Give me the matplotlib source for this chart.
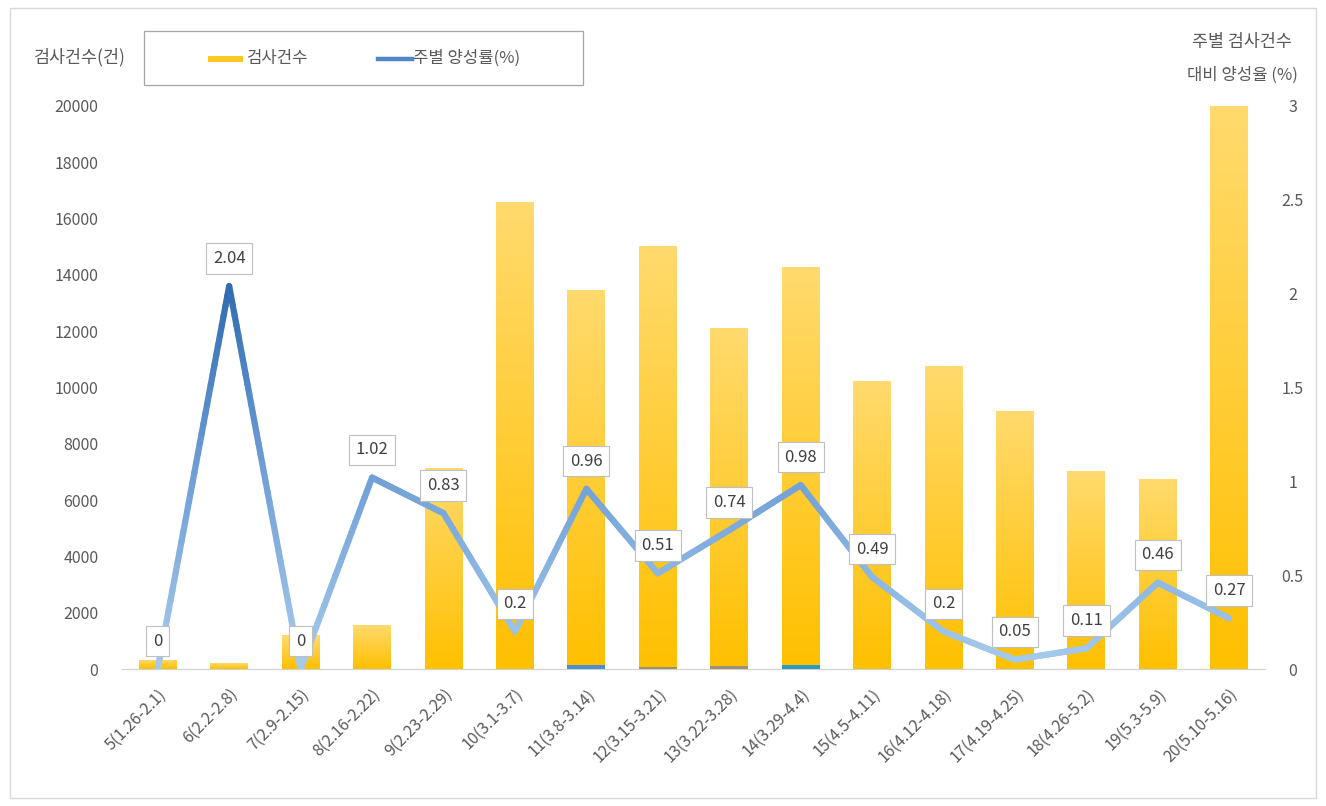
import numpy as np
import matplotlib
matplotlib.use("Agg")
import matplotlib.pyplot as plt
from matplotlib.collections import LineCollection
from matplotlib.colors import LinearSegmentedColormap
from matplotlib.lines import Line2D
from matplotlib.patches import Rectangle

plt.rcParams['font.family'] = ['Noto Sans CJK KR', 'DejaVu Sans']

# --- data ---
weeks = ["5(1.26-2.1)", "6(2.2-2.8)", "7(2.9-2.15)", "8(2.16-2.22)", "9(2.23-2.29)",
         "10(3.1-3.7)", "11(3.8-3.14)", "12(3.15-3.21)", "13(3.22-3.28)", "14(3.29-4.4)",
         "15(4.5-4.11)", "16(4.12-4.18)", "17(4.19-4.25)", "18(4.26-5.2)", "19(5.3-5.9)",
         "20(5.10-5.16)"]
tests = [320, 210, 1200, 1560, 7140, 16590, 13460, 15030, 12110, 14280,
         10230, 10760, 9160, 7030, 6750, 20000]
pos_rate = [0, 2.04, 0, 1.02, 0.83, 0.2, 0.96, 0.51, 0.74, 0.98,
            0.49, 0.2, 0.05, 0.11, 0.46, 0.27]
# thin strips seen at the foot of some bars
pos_strip = [0, 0, 0, 0, 0, 0, 130, 80, 90, 140, 0, 0, 0, 0, 0, 0]
strip_colors = ["#4A8FD0", "#9A9070", "#A09072", "#2A9CC0"]

W, H = 1326, 806
fig = plt.figure(figsize=(W / 100, H / 100), dpi=100)
ax = fig.add_axes([122 / W, 1 - 669 / H, (1265 - 122) / W, (669 - 106) / H])
ax2 = ax.twinx()

x = np.arange(len(weeks))
bw = 0.53

# bars with a vertical gradient (light at top, deep amber at bottom)
grad = np.linspace(0, 1, 256).reshape(-1, 1)
bar_cmap = LinearSegmentedColormap.from_list("amber", ["#FFC000", "#FFDA6E"])
bars = ax.bar(x, tests, width=bw, color="none", edgecolor="none", zorder=2)
for b in bars:
    bx, by, bwid, bh = b.get_x(), b.get_y(), b.get_width(), b.get_height()
    im = ax.imshow(grad, cmap=bar_cmap, origin="lower", aspect="auto",
                   extent=[bx, bx + bwid, by, by + bh], zorder=2)
    im.set_clip_path(b)

k = 0
for i, v in enumerate(pos_strip):
    if v > 0:
        ax.bar(x[i], v, width=bw, color=strip_colors[k], zorder=3)
        k += 1

ax.set_xlim(-0.5, len(weeks) - 0.5)
ax.set_ylim(0, 20000)
ax.set_yticks(np.arange(0, 20001, 2000))
ax.set_xticks(x)
ax.set_xticklabels(weeks, rotation=45, ha="right", rotation_mode="anchor")
ax.tick_params(axis="both", length=0, labelsize=11.5, colors="#595959")
ax.tick_params(axis="x", pad=12)
ax.tick_params(axis="y", pad=17)
for s in ["top", "right", "left"]:
    ax.spines[s].set_visible(False)
ax.spines["bottom"].set_color("#D0D0D0")

# positivity line, coloured by height (light near zero, dark at peak)
line_cmap = LinearSegmentedColormap.from_list("blue", ["#A7CBEC", "#6F9FD6", "#2C69AE"])
xs, ys = [], []
for i in range(len(x) - 1):
    t = np.linspace(0, 1, 40)
    xs.extend(x[i] + (x[i + 1] - x[i]) * t)
    ys.extend(pos_rate[i] + (pos_rate[i + 1] - pos_rate[i]) * t)
xs, ys = np.array(xs), np.array(ys)
pts = np.column_stack([xs, ys]).reshape(-1, 1, 2)
segs = np.concatenate([pts[:-1], pts[1:]], axis=1)
lc = LineCollection(segs, cmap=line_cmap, linewidths=4.5, capstyle="round", joinstyle="round")
lc.set_array((ys[:-1] + ys[1:]) / 2)
lc.set_clim(0, 2.1)
ax2.add_collection(lc)

for i, v in enumerate(pos_rate):
    ax2.annotate(f"{v:g}", (x[i], v), xytext=(0, 20), textcoords="offset points",
                 ha="center", va="center", fontsize=12, color="#404040", zorder=6,
                 bbox=dict(boxstyle="square,pad=0.4", fc="white", ec="#BFBFBF", lw=0.8))

ax2.set_ylim(0, 3)
ax2.set_yticks(np.arange(0, 3.01, 0.5))
ax2.set_yticklabels(["0", "0.5", "1", "1.5", "2", "2.5", "3"], ha="center")
ax2.tick_params(axis="y", length=0, labelsize=11.5, colors="#595959", pad=20)
for s in ["top", "right", "left", "bottom"]:
    ax2.spines[s].set_visible(False)

# axis titles
fig.text(80 / W, 1 - 57 / H, "검사건수(건)", ha="center", va="center", fontsize=12.5, color="#595959")
fig.text(1242 / W, 1 - 42 / H, "주별 검사건수", ha="center", va="center", fontsize=12.5, color="#595959")
fig.text(1242 / W, 1 - 75 / H, "대비 양성율 (%)", ha="center", va="center", fontsize=12, color="#595959")

# legend drawn by hand so the box matches the reference's wide frame
ft = fig.transFigure
fig.patches.append(Rectangle((144 / W, 1 - 85 / H), (583 - 144) / W, (85 - 31) / H,
                             transform=ft, fill=False, ec="#A6A6A6", lw=0.9))
fig.patches.append(Rectangle((208 / W, 1 - 62 / H), 35 / W, 6 / H, transform=ft,
                             fc="#FFC823", ec="none"))
fig.lines.append(Line2D([378 / W, 412 / W], [1 - 59 / H, 1 - 59 / H], transform=ft,
                        color="#4F86C6", lw=3.2))
fig.text(246 / W, 1 - 58 / H, "검사건수", ha="left", va="center", fontsize=12, color="#595959")
fig.text(413 / W, 1 - 58 / H, "주별 양성률(%)", ha="left", va="center", fontsize=12, color="#595959")

# outer chart border
fig.patches.append(Rectangle((10 / W, 8 / H), 1 - 20 / W, 1 - 16 / H, transform=ft,
                             fill=False, ec="#D9D9D9", lw=1))

fig.savefig("out.png", dpi=100)
